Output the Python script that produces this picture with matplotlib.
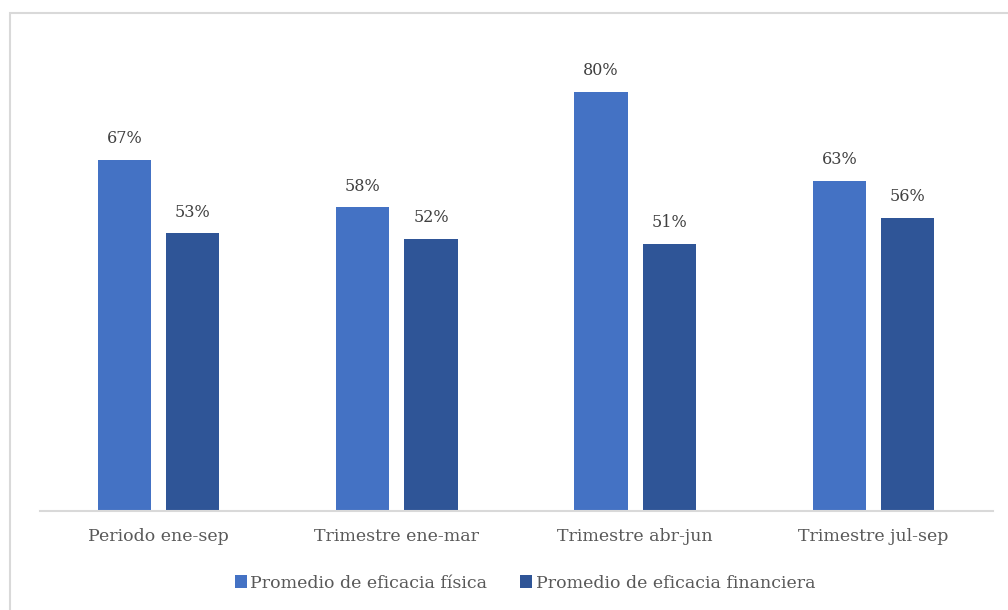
import numpy as np
import matplotlib.pyplot as plt
from matplotlib.patches import Rectangle

categorias = ["Periodo ene-sep", "Trimestre ene-mar", "Trimestre abr-jun", "Trimestre jul-sep"]
eficacia_fisica = [67, 58, 80, 63]
eficacia_financiera = [53, 52, 51, 56]
series_nombres = ["Promedio de eficacia física", "Promedio de eficacia financiera"]

color_fisica = "#4472C4"
color_financiera = "#2F5597"
gris_texto = "#595959"

plt.rcParams["font.family"] = ["DejaVu Serif"]

fig = plt.figure(figsize=(10.08, 6.10), dpi=100)
# borde del grafico
fig.patches.append(Rectangle((10 / 1008, -0.01), 1.0, 1 - 13 / 610 + 0.01,
                             transform=fig.transFigure, fill=False,
                             edgecolor="#D9D9D9", linewidth=1.5))

ax = fig.add_axes([39.5 / 1008, 1 - 511 / 610, 953 / 1008, 481 / 610])

x = np.arange(len(categorias))
ancho = 0.223
desp = 0.143

b1 = ax.bar(x - desp, eficacia_fisica, ancho, color=color_fisica, label=series_nombres[0])
b2 = ax.bar(x + desp, eficacia_financiera, ancho, color=color_financiera, label=series_nombres[1])

for barras in (b1, b2):
    for b in barras:
        ax.annotate(f"{b.get_height():.0f}%", (b.get_x() + b.get_width() / 2, b.get_height()),
                    xytext=(0, 9), textcoords="offset points", ha="center", va="bottom",
                    fontsize=11.5, color="#404040")

ax.set_xlim(-0.5, len(categorias) - 0.5)
ax.set_ylim(0, 91.8)
ax.set_yticks([])
ax.set_xticks(x)
ax.set_xticklabels(categorias, fontsize=12.5, color=gris_texto)
ax.tick_params(axis="x", length=0, pad=12)
for s in ["top", "right", "left"]:
    ax.spines[s].set_visible(False)
ax.spines["bottom"].set_color("#D9D9D9")
ax.spines["bottom"].set_linewidth(1.5)

fig.legend(handles=[b1, b2], loc="center", bbox_to_anchor=(525 / 1008, 1 - 583 / 610),
           ncol=2, frameon=False, fontsize=12.5, labelcolor=gris_texto,
           handlelength=0.7, handleheight=0.7, handletextpad=0.2, columnspacing=1.9)

fig.savefig("out.png", dpi=100)
